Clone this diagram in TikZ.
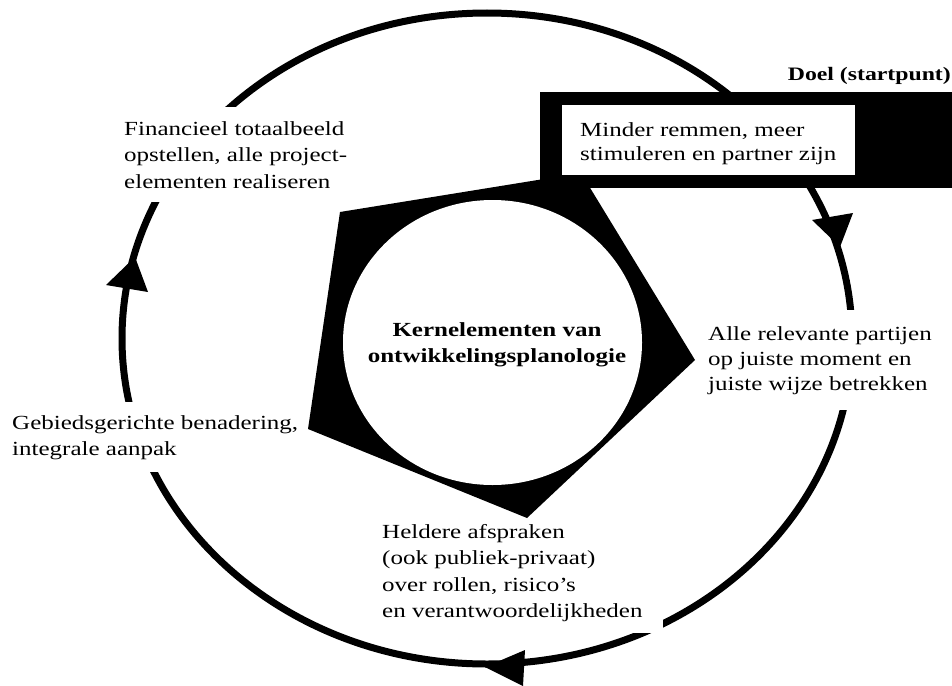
\documentclass[tikz,border=0pt]{standalone}
\usepackage{fontspec}
\setmainfont{Liberation Serif}[FakeStretch=1.25]
\begin{document}
\begin{tikzpicture}[x=1pt,y=-1pt,
  ring/.style={line width=7pt},
  ringtip/.style={fill=black},
  cyclelabel/.style={fill=white, align=left, anchor=north west,
    font=\fontsize{20}{26.5}\selectfont},
  corebody/.style={fill=white},
  corelabel/.style={align=center, inner sep=0pt,
    font=\fontsize{20}{26}\selectfont\bfseries}]
\useasboundingbox (0,0) rectangle (952,685);

% the cycle: one ring with three arrowheads running clockwise
\draw[ring] (487,338.5) ellipse [x radius=365, y radius=325.5];
\fill[ringtip] (840,247) -- (812,220) -- (853,213) -- cycle;
\fill[ringtip] (135,257) -- (106,285) -- (148,292) -- cycle;
\fill[ringtip] (485,667) -- (525,650) -- (523,686) -- cycle;

% steps of the cycle, set on white so the ring breaks behind them
\node[cyclelabel, inner xsep=4pt, inner ysep=14pt] (fin) at (120,107)
  {Financieel totaalbeeld\\opstellen, alle project-\\elementen realiseren};
\node[cyclelabel, inner xsep=3pt, inner ysep=16pt,
  font=\fontsize{20}{25}\selectfont] (alle) at (705,310)
  {Alle relevante partijen\\op juiste moment en\\juiste wijze betrekken};
\node[cyclelabel, inner xsep=4pt, inner ysep=13pt,
  font=\fontsize{20}{26}\selectfont] (geb) at (8,402)
  {Gebiedsgerichte benadering,\\integrale aanpak};
\node[cyclelabel, inner xsep=20pt, inner ysep=11pt] (held) at (362,513)
  {Heldere afspraken\\(ook publiek-privaat)\\over rollen, risico’s\\en verantwoordelijkheden};

% core: black pentagon with a white disc
\fill (581,173) -- (340,212) -- (308,429) -- (527,518) -- (695,360) -- cycle;
\fill[corebody] (492.5,342.5) ellipse [x radius=149.5, y radius=142.5];
\node[corelabel] (core) at (497,344.5)
  {Kernelementen van\\ontwikkelingsplanologie};

% starting point: framed box at the top right
\node[fill=black, minimum width=412pt, minimum height=96pt,
  anchor=north west, inner sep=0pt] (doel) at (540,92) {};
\node[fill=white, minimum width=293pt, minimum height=70pt,
  anchor=north west, inner sep=0pt] (doelin) at (562,105) {};
\node[anchor=north west, inner sep=0pt, align=left,
  font=\fontsize{20}{24}\selectfont] (doeltext) at (580,122.3)
  {Minder remmen, meer\\stimuleren en partner zijn};
\node[anchor=base east, inner sep=0pt,
  font=\fontsize{19}{22}\selectfont\bfseries] (doeltitle) at (951,81)
  {Doel (startpunt)};
\end{tikzpicture}
\end{document}
